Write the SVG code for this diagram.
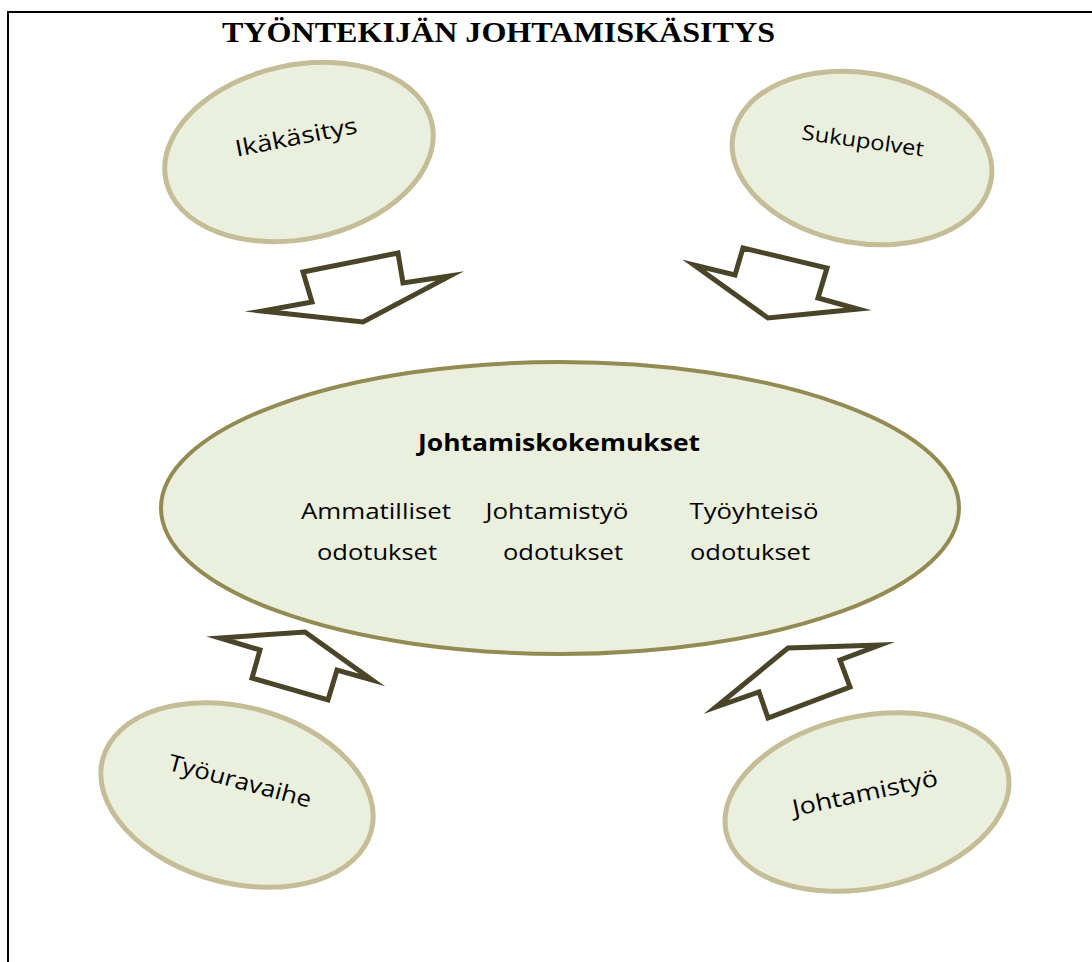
<svg xmlns="http://www.w3.org/2000/svg" width="1092" height="962" viewBox="0 0 1092 962">
<style>
.bubble{fill:#ebf0de;stroke:#c4bd97;stroke-width:5}
.main{fill:#ebf0de;stroke:#948a54;stroke-width:4}
.arrow{fill:#ffffff;stroke:#4a4429;stroke-width:5;stroke-linejoin:miter;stroke-miterlimit:10}
.lbl{font-family:"Open Sans","Noto Sans",sans-serif;fill:#000;text-anchor:middle}
.title{font-family:"Liberation Serif",serif;font-weight:bold;font-size:30px;fill:#000}
</style>
<rect width="1092" height="962" fill="#ffffff"/>
<g id="frame">
<line x1="8" y1="12" x2="1092" y2="12" stroke="#000" stroke-width="2"/>
<line x1="8" y1="11" x2="8" y2="962" stroke="#000" stroke-width="2"/>
</g>
<text id="title" class="title" x="222" y="42" textLength="553" lengthAdjust="spacingAndGlyphs">TYÖNTEKIJÄN JOHTAMISKÄSITYS</text>
<g id="ikakasitys">
<ellipse class="bubble" cx="299" cy="152" rx="136" ry="87" transform="rotate(-12 299 152)"/>
<text class="lbl" x="296" y="145" font-size="23" textLength="124" lengthAdjust="spacingAndGlyphs" transform="rotate(-11 296 137)">Ikäkäsitys</text>
</g>
<g id="sukupolvet">
<ellipse class="bubble" cx="862" cy="158" rx="131" ry="85" transform="rotate(10 862 158)"/>
<text class="lbl" x="863" y="148" font-size="21" textLength="123" lengthAdjust="spacingAndGlyphs" transform="rotate(8 863 141)">Sukupolvet</text>
</g>
<g id="johtamiskokemukset">
<ellipse class="main" cx="560" cy="508" rx="399" ry="146"/>
<text class="lbl" x="559" y="451" font-size="24" font-weight="bold" textLength="282" lengthAdjust="spacingAndGlyphs">Johtamiskokemukset</text>
<text class="lbl" x="376" y="519" font-size="22" textLength="150" lengthAdjust="spacingAndGlyphs">Ammatilliset</text>
<text class="lbl" x="377" y="560" font-size="22" textLength="120" lengthAdjust="spacingAndGlyphs">odotukset</text>
<text class="lbl" x="557" y="519" font-size="22" textLength="143" lengthAdjust="spacingAndGlyphs">Johtamistyö</text>
<text class="lbl" x="563" y="560" font-size="22" textLength="120" lengthAdjust="spacingAndGlyphs">odotukset</text>
<text class="lbl" x="754" y="519" font-size="22" textLength="129" lengthAdjust="spacingAndGlyphs">Työyhteisö</text>
<text class="lbl" x="750" y="560" font-size="22" textLength="120" lengthAdjust="spacingAndGlyphs">odotukset</text>
</g>
<g id="tyouravaihe">
<ellipse class="bubble" cx="237" cy="795" rx="139" ry="88" transform="rotate(15 237 795)"/>
<text class="lbl" x="240" y="789" font-size="23" textLength="147" lengthAdjust="spacingAndGlyphs" transform="rotate(15 240 781)">Työuravaihe</text>
</g>
<g id="johtamistyo">
<ellipse class="bubble" cx="867" cy="802" rx="144" ry="86" transform="rotate(-12 867 802)"/>
<text class="lbl" x="865" y="801" font-size="23" textLength="148" lengthAdjust="spacingAndGlyphs" transform="rotate(-12 865 793)">Johtamistyö</text>
</g>
<g id="connectors">
<polygon class="arrow" points="303,272 398,253 403,283 450,276 363,322 262,311 312,302"/>
<polygon class="arrow" points="743,248 827,268 818,298 858,309 768,318 694,265 735,275"/>
<polygon class="arrow" points="220,638 305,632 372,680 337,670 328,700 252,678 260,650"/>
<polygon class="arrow" points="716,707 788,648 880,645 840,660 850,687 768,718 759,692"/>
</g>
</svg>
